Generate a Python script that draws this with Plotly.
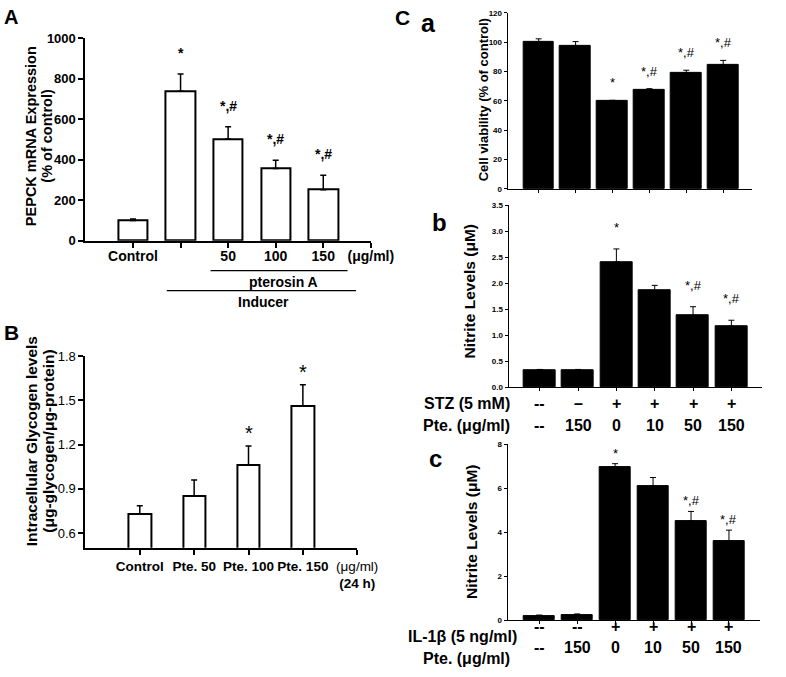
import plotly.graph_objects as go

FONT = "Liberation Sans, Arial, Helvetica, sans-serif"
W, H = 786, 677

# ---------------- Data ----------------
# Panel A: PEPCK mRNA expression
A_labels = ["Control", "", "50", "100", "150", "(μg/ml)"]
A_values = [100, 738, 502, 357, 252]
A_err = [7, 85, 61, 40, 71]
A_marks = ["", "*", "*,#", "*,#", "*,#"]

# Panel B: intracellular glycogen
B_labels = ["<b>Control</b>", "<b>Pte. 50</b>", "<b>Pte. 100</b>", "<b>Pte. 150</b>",
            "(μg/ml)<br><b>(24 h)</b>"]
B_values = [0.73, 0.85, 1.06, 1.46]
B_err = [0.055, 0.11, 0.13, 0.145]
B_marks = ["", "", "*", "*"]

# Panel C
C_stz = ["--", "–", "+", "+", "+", "+"]
C_il = ["--", "--", "+", "+", "+", "+"]
C_pte = ["--", "150", "0", "10", "50", "150"]
Ca_values = [100.3, 97.6, 59.8, 67.8, 79.3, 84.7]
Ca_err = [2.0, 2.8, 0.6, 0.5, 1.6, 2.9]
Ca_marks = ["", "", "*", "*,#", "*,#", "*,#"]
Cb_values = [0.33, 0.33, 2.41, 1.86, 1.38, 1.175]
Cb_err = [0.015, 0.015, 0.25, 0.10, 0.17, 0.115]
Cb_marks = ["", "", "*", "", "*,#", "*,#"]
Cc_values = [0.20, 0.25, 6.97, 6.11, 4.50, 3.60]
Cc_err = [0.03, 0.03, 0.14, 0.37, 0.44, 0.49]
Cc_marks = ["", "", "*", "", "*,#", "*,#"]


def px(x):
    return x / W


def py(y):
    return 1 - y / H


fig = go.Figure()
ann = []
shapes = []


def add_bars(values, err, xa, ya, fill, line_w, width, err_th, err_w):
    xs = list(range(1, len(values) + 1))
    fig.add_trace(go.Bar(
        x=xs, y=values, width=width, xaxis=xa, yaxis=ya,
        marker=dict(color=fill, line=dict(color="black", width=line_w)),
        error_y=dict(type="data", symmetric=False, array=err,
                     arrayminus=[0] * len(err), color="black",
                     thickness=err_th, width=err_w),
        showlegend=False, hoverinfo="skip"))


def add_marks(values, err, marks, xref, yref, size, bold, yshift):
    for i, (v, e, m) in enumerate(zip(values, err, marks)):
        if m:
            ann.append(dict(x=i + 1, y=v + e, xref=xref, yref=yref, text=m,
                            showarrow=False, yanchor="bottom", yshift=yshift,
                            font=dict(family=FONT, size=size, color="black",
                                      weight="bold" if bold else "normal")))


def label(x, y, text, size, bold=True, angle=0, xanchor="center", yanchor="middle"):
    ann.append(dict(x=px(x), y=py(y), xref="paper", yref="paper", text=text,
                    showarrow=False, textangle=angle, xanchor=xanchor, yanchor=yanchor,
                    font=dict(family=FONT, size=size, color="black",
                              weight="bold" if bold else "normal")))


def axis_style(lw, tl, tw, fsize, bold):
    return dict(showline=True, linecolor="black", linewidth=lw, ticks="outside",
                ticklen=tl, tickwidth=tw, tickcolor="black", showgrid=False,
                zeroline=False, fixedrange=True, tickangle=0,
                tickfont=dict(family=FONT, size=fsize, color="black",
                              weight="bold" if bold else "normal"))


# ---------------- Panel A ----------------
add_bars(A_values, A_err, "x", "y", "white", 2, 0.62, 1.5, 3)
add_marks(A_values, A_err, A_marks, "x", "y", 14, True, 11)

# ---------------- Panel B ----------------
add_bars(B_values, B_err, "x2", "y2", "white", 2, 0.41, 1.5, 3)
add_marks(B_values, B_err, B_marks, "x2", "y2", 20, False, 0)

# ---------------- Panel C ----------------
add_bars(Ca_values, Ca_err, "x3", "y3", "black", 1, 0.84, 1, 3)
add_marks(Ca_values, Ca_err, Ca_marks, "x3", "y3", 13, False, 8)
add_bars(Cb_values, Cb_err, "x4", "y4", "black", 1, 0.83, 1, 3)
add_marks(Cb_values, Cb_err, Cb_marks, "x4", "y4", 13, False, 12)
add_bars(Cc_values, Cc_err, "x5", "y5", "black", 1, 0.83, 1, 3)
add_marks(Cc_values, Cc_err, Cc_marks, "x5", "y5", 13, False, 1)

layout = dict(width=W, height=H, margin=dict(l=0, r=0, t=0, b=0),
              paper_bgcolor="white", plot_bgcolor="white", showlegend=False,
              bargap=0)

# Axis A
layout["xaxis"] = dict(axis_style(2, 5, 1.5, 14, True), domain=[px(88), px(382)],
                       range=[0, 6], tickvals=list(range(1, 7)), ticktext=A_labels,
                       anchor="y", ticklabelstandoff=-4)
layout["yaxis"] = dict(axis_style(2, 5, 1.5, 13, True), domain=[py(239), py(32)],
                       range=[0, 1000], tickvals=[0, 200, 400, 600, 800, 1000],
                       anchor="x")
# Axis B
layout["xaxis2"] = dict(axis_style(2, 5, 1.5, 13.5, False), domain=[px(88), px(368)],
                        range=[0, 5], tickvals=list(range(1, 6)), ticktext=B_labels,
                        anchor="y2", ticklabelstandoff=0)
layout["yaxis2"] = dict(axis_style(2, 5, 1.5, 13, False), domain=[py(553), py(357)],
                        range=[0.5, 1.8], tickvals=[0.6, 0.9, 1.2, 1.5, 1.8],
                        ticktext=["0.6", "0.9", "1.2", "1.5", "1.8"], anchor="x2")
# Axis Ca
layout["xaxis3"] = dict(axis_style(1.2, 3, 1, 8, True), domain=[px(523), px(775)],
                        range=[0.16, 6.79], tickvals=list(range(1, 7)),
                        showticklabels=False, anchor="y3")
layout["yaxis3"] = dict(axis_style(1.2, 3, 1, 8, True), domain=[py(186), py(6)],
                        range=[0, 120], tickvals=[0, 20, 40, 60, 80, 100, 120],
                        anchor="x3")
# Axis Cb
layout["xaxis4"] = dict(axis_style(1.2, 3, 1, 8, True), domain=[px(524), px(785)],
                        range=[0.19, 6.8], tickvals=list(range(1, 7)),
                        showticklabels=False, anchor="y4")
layout["yaxis4"] = dict(axis_style(1.2, 3, 1, 8, True), domain=[py(389), py(202.7)],
                        range=[0, 3.5], tickvals=[0, 0.5, 1, 1.5, 2, 2.5, 3, 3.5],
                        tickformat=".1f", anchor="x4")
# Axis Cc
layout["xaxis5"] = dict(axis_style(1.2, 3, 1, 8, True), domain=[px(523), px(783)],
                        range=[0.17, 6.82], tickvals=list(range(1, 7)),
                        showticklabels=False, anchor="y5")
layout["yaxis5"] = dict(axis_style(1.2, 3, 1, 8, True), domain=[py(627), py(447)],
                        range=[0, 8], tickvals=[0, 2, 4, 6, 8], anchor="x5")

# ---------------- Text & decorations ----------------
# Panel letters
label(2, 10, "A", 20, xanchor="left")
label(2, 333, "B", 21, xanchor="left")
label(405, 11, "C", 21, xanchor="left")
label(432, 16, "a", 25, xanchor="left")
label(443, 220, "b", 24, xanchor="left")
label(440, 462, "c", 24, xanchor="left")

# Y titles
label(32, 132, "PEPCK mRNA Expression", 14.5, angle=-90)
label(48, 132, "(% of control)", 14.5, angle=-90)
label(32, 444, "Intracellular Glycogen levels", 15.5, angle=-90)
label(50, 444, "(μg-glycogen/μg-protein)", 15.5, angle=-90)
label(498, 95, "Cell viability (% of control)", 13, angle=-90)
label(484, 291, "Nitrite Levels (μM)", 15.5, angle=-90)
label(485, 537, "Nitrite Levels (μM)", 15.5, angle=-90)

# Panel A brackets
shapes.append(dict(type="line", xref="x", yref="paper", x0=2.63, x1=5.51,
                   y0=py(269.5), y1=py(269.5), line=dict(color="black", width=1.3)))
shapes.append(dict(type="line", xref="x", yref="paper", x0=1.71, x1=5.69,
                   y0=py(290), y1=py(290), line=dict(color="black", width=1.3)))
ann.append(dict(x=4.16, y=py(281.5), xref="x", yref="paper", text="pterosin A",
                showarrow=False, font=dict(family=FONT, size=14, color="black", weight="bold")))
ann.append(dict(x=3.74, y=py(301.5), xref="x", yref="paper", text="Inducer",
                showarrow=False, font=dict(family=FONT, size=14, color="black", weight="bold")))

# Panel C condition rows
label(527, 405, "STZ (5 mM)", 16, xanchor="right")
label(527, 428, "Pte. (μg/ml)", 16, xanchor="right")
label(535, 644, "IL-1β (5 ng/ml)", 16, xanchor="right")
label(527, 666, "Pte. (μg/ml)", 16, xanchor="right")


def row(vals, xref, ypx):
    for i, t in enumerate(vals):
        ann.append(dict(x=i + 1, y=py(ypx), xref=xref, yref="paper", text=t,
                        showarrow=False,
                        font=dict(family=FONT, size=16, color="black", weight="bold")))


row(C_stz, "x4", 405)
row(C_pte, "x4", 428)
row(C_il, "x5", 644)
row(C_pte, "x5", 666)

layout["annotations"] = ann
layout["shapes"] = shapes
fig.update_layout(**layout)
fig.write_html(
    "out.html",
    config={"displayModeBar": False},
    post_script="document.body.style.margin='0';document.body.style.overflow='hidden';",
)
